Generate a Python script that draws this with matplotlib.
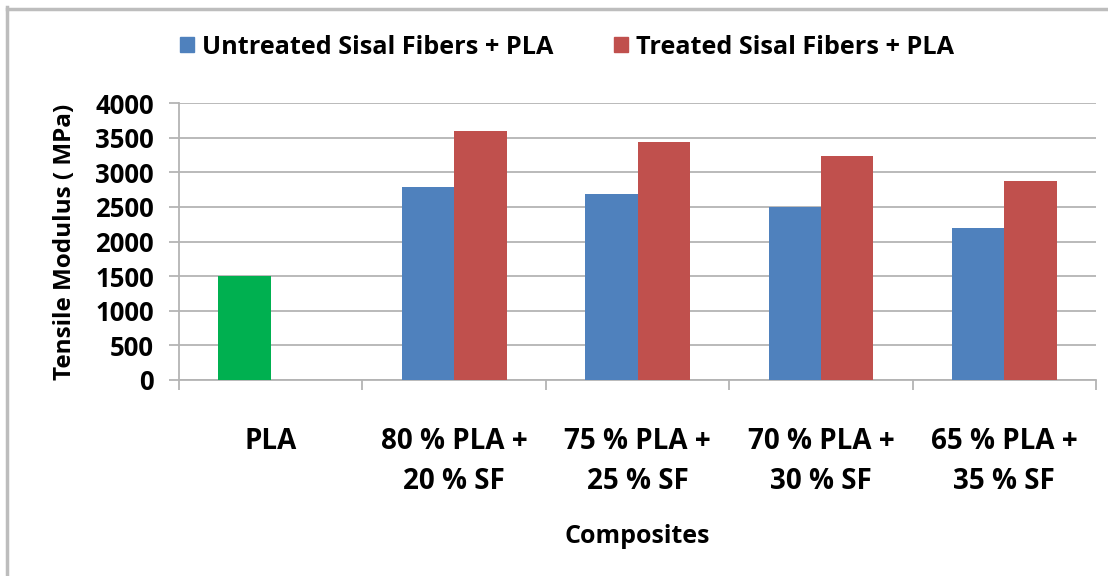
import numpy as np
import matplotlib.pyplot as plt
from matplotlib.lines import Line2D
from matplotlib.patches import Patch

# data
categories = ['PLA', '80 % PLA +\n20 % SF', '75 % PLA +\n25 % SF',
              '70 % PLA +\n30 % SF', '65 % PLA +\n35 % SF']
untreated = [1500, 2790, 2680, 2500, 2200]
treated = [np.nan, 3600, 3440, 3240, 2880]
series_names = ['Untreated Sisal Fibers + PLA', 'Treated Sisal Fibers + PLA']

blue = '#4F81BD'
red = '#C0504D'
green = '#00B050'
grid_c = '#B4B4B4'

plt.rcParams['font.family'] = ['Open Sans', 'DejaVu Sans']
plt.rcParams['font.weight'] = 'bold'
plt.rcParams['axes.labelweight'] = 'bold'

W, H = 1108, 576
fig = plt.figure(figsize=(W / 100, H / 100), dpi=100)
ax = fig.add_axes([179 / W, (H - 380) / H, 917 / W, 277 / H])

x = np.arange(len(categories))
bw = 1 / 3.5
cols = [green] + [blue] * (len(categories) - 1)
ax.bar(x - bw / 2, untreated, bw, color=cols, zorder=3)
ax.bar(x + bw / 2, treated, bw, color=red, zorder=3)

ax.set_xlim(-0.5, len(categories) - 0.5)
ax.set_ylim(0, 4000)
ax.set_yticks(np.arange(0, 4001, 500))
ax.yaxis.grid(True, color=grid_c, linewidth=1.3, zorder=0)
ax.set_axisbelow(True)

for s in ['top', 'right']:
    ax.spines[s].set_visible(False)
for s in ['left', 'bottom']:
    ax.spines[s].set_color(grid_c)
    ax.spines[s].set_linewidth(1.3)

ax.tick_params(axis='y', length=7, color=grid_c, width=1.3, pad=11, labelsize=18.5)
ax.set_xticks(x)
ax.set_xticklabels(categories, fontsize=20, linespacing=1.5)
ax.tick_params(axis='x', which='major', length=0, pad=34)
ax.set_xticks(np.arange(-0.5, len(categories)), minor=True)
ax.tick_params(axis='x', which='minor', length=7, color=grid_c, width=1.3)

ax.set_ylabel('Tensile Modulus ( MPa)', fontsize=17.5, labelpad=13)
ax.set_xlabel('Composites', fontsize=18, labelpad=20)

handles = [Patch(color=blue), Patch(color=red)]
fig.legend(handles, series_names, loc='center', bbox_to_anchor=(567 / W, 1 - 47 / H),
           ncol=2, frameon=False, fontsize=18.2, handlelength=0.55, handleheight=0.55,
           handletextpad=0.3, columnspacing=2.4)

# chart area border (left and top only visible)
fig.add_artist(Line2D([6.5 / W, 6.5 / W], [0, 1 - 7 / H], transform=fig.transFigure,
                      color='#BDBDBD', linewidth=2.5))
fig.add_artist(Line2D([6.5 / W, 1], [1 - 8.5 / H, 1 - 8.5 / H], transform=fig.transFigure,
                      color='#BDBDBD', linewidth=2.5))

fig.savefig('out.png', dpi=100)
